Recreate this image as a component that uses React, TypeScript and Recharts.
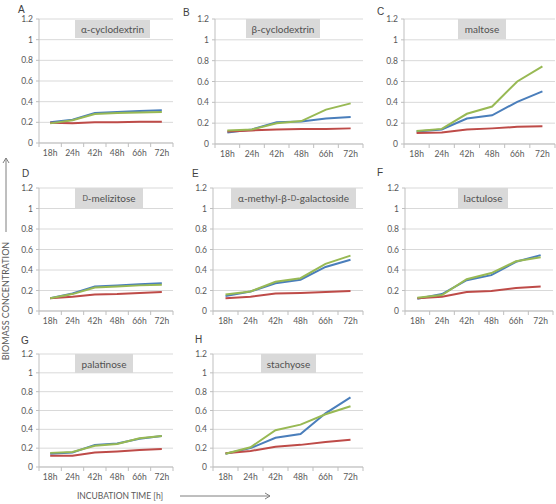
import React from 'react';
import { LineChart, Line, XAxis, YAxis, CartesianGrid } from 'recharts';

// ---- data ----
const hours = ['18h', '24h', '42h', '48h', '66h', '72h'];
const yTicks = [0, 0.2, 0.4, 0.6, 0.8, 1, 1.2];
const letters = ['A', 'B', 'C', 'D', 'E', 'F', 'G', 'H'];
const sugars = [
  'α-cyclodextrin',
  'β-cyclodextrin',
  'maltose',
  'D-melizitose',
  'α-methyl-β-D-galactoside',
  'lactulose',
  'palatinose',
  'stachyose',
];

const blueA = [0.2, 0.225, 0.29, 0.3, 0.31, 0.318];
const redA = [0.195, 0.19, 0.2, 0.2, 0.205, 0.205];
const greenA = [0.19, 0.22, 0.28, 0.29, 0.295, 0.3];

const blueB = [0.11, 0.14, 0.21, 0.215, 0.245, 0.26];
const redB = [0.12, 0.13, 0.14, 0.145, 0.145, 0.15];
const greenB = [0.13, 0.14, 0.2, 0.22, 0.33, 0.39];

const blueC = [0.12, 0.14, 0.245, 0.275, 0.405, 0.505];
const redC = [0.105, 0.11, 0.14, 0.15, 0.165, 0.17];
const greenC = [0.125, 0.145, 0.29, 0.36, 0.6, 0.745];

const blueD = [0.125, 0.17, 0.24, 0.25, 0.26, 0.27];
const redD = [0.125, 0.14, 0.16, 0.165, 0.175, 0.185];
const greenD = [0.125, 0.165, 0.23, 0.24, 0.25, 0.255];

const blueE = [0.145, 0.19, 0.27, 0.305, 0.43, 0.5];
const redE = [0.125, 0.14, 0.17, 0.175, 0.185, 0.195];
const greenE = [0.16, 0.19, 0.285, 0.32, 0.46, 0.54];

const blueF = [0.12, 0.165, 0.3, 0.35, 0.48, 0.545];
const redF = [0.125, 0.14, 0.185, 0.195, 0.225, 0.24];
const greenF = [0.13, 0.155, 0.31, 0.37, 0.485, 0.525];

const blueG = [0.14, 0.155, 0.235, 0.25, 0.3, 0.33];
const redG = [0.12, 0.12, 0.155, 0.165, 0.18, 0.19];
const greenG = [0.15, 0.16, 0.225, 0.245, 0.305, 0.33];

const blueH = [0.14, 0.2, 0.31, 0.35, 0.57, 0.74];
const redH = [0.145, 0.17, 0.215, 0.235, 0.265, 0.29];
const greenH = [0.14, 0.21, 0.39, 0.45, 0.56, 0.645];

const blues = [blueA, blueB, blueC, blueD, blueE, blueF, blueG, blueH];
const reds = [redA, redB, redC, redD, redE, redF, redG, redH];
const greens = [greenA, greenB, greenC, greenD, greenE, greenF, greenG, greenH];

// ---- layout (positions/styles) ----
const plots = [
  { x0: 39, y0: 19, x1: 173, y1: 143 },
  { x0: 215, y0: 19, x1: 363, y1: 144 },
  { x0: 404, y0: 19, x1: 555, y1: 144 },
  { x0: 39, y0: 188, x1: 173, y1: 311 },
  { x0: 213, y0: 188, x1: 363, y1: 311 },
  { x0: 405, y0: 188, x1: 553, y1: 311 },
  { x0: 39, y0: 354, x1: 173, y1: 467 },
  { x0: 213, y0: 354, x1: 363, y1: 467 },
];
const boxes = [
  { x: 75, y: 20, w: 75, h: 18 },
  { x: 246, y: 19, w: 74, h: 19 },
  { x: 458, y: 19, w: 48, h: 20 },
  { x: 75, y: 188, w: 68, h: 20 },
  { x: 231, y: 188, w: 125, h: 20 },
  { x: 458, y: 188, w: 50, h: 20 },
  { x: 75, y: 354, w: 58, h: 19 },
  { x: 261, y: 354, w: 55, h: 19 },
];
const letterPos = [
  { x: 18, y: 13 },
  { x: 183, y: 16 },
  { x: 377, y: 15 },
  { x: 22, y: 177 },
  { x: 192, y: 177 },
  { x: 377, y: 176 },
  { x: 21, y: 344 },
  { x: 195, y: 343 },
];

const FONT = 'Lato, "Open Sans", "DejaVu Sans", sans-serif';
const TXT = '#595959';
const BLUE = '#4a7ebb';
const RED = '#be4b48';
const GREEN = '#98b954';
const GRID = '#d9d9d9';
const AXIS = '#bfbfbf';

const YW = 32;
const MT = 6;
const MR = 1;
const XH = 22;
const XM = 7;

function renderName(name: string) {
  const parts = name.split(/(D(?=-))/);
  return parts.map((p, i) =>
    p === 'D' ? (
      <span key={i} style={{ fontSize: '0.72em' }}>
        D
      </span>
    ) : (
      <span key={i}>{p}</span>
    )
  );
}

function makeXTick(bw: number, n: number) {
  return (props: any) => {
    const { x, y, payload, index } = props;
    const ay = y - XM;
    return (
      <g>
        <line x1={x - bw / 2} x2={x - bw / 2} y1={ay} y2={ay + 4} stroke={AXIS} strokeWidth={1} />
        {index === n - 1 && (
          <line x1={x + bw / 2} x2={x + bw / 2} y1={ay} y2={ay + 4} stroke={AXIS} strokeWidth={1} />
        )}
        <text x={x} y={y} dy="0.71em" textAnchor="middle" fill={TXT} fontSize={8.5} fontFamily={FONT}>
          {payload.value}
        </text>
      </g>
    );
  };
}

function Panel({ i }: { i: number }) {
  const p = plots[i];
  const pw = p.x1 - p.x0;
  const ph = p.y1 - p.y0;
  const data = hours.map((h, k) => ({ h, blue: blues[i][k], red: reds[i][k], green: greens[i][k] }));
  const bw = pw / hours.length;
  return (
    <div style={{ position: 'absolute', left: p.x0 - YW, top: p.y0 - MT }}>
      <LineChart
        width={pw + YW + MR}
        height={ph + MT + XH}
        data={data}
        margin={{ top: MT, right: MR, bottom: 0, left: 0 }}
      >
        <CartesianGrid vertical={false} stroke={GRID} strokeWidth={1} />
        <XAxis
          dataKey="h"
          scale="band"
          height={XH}
          tickLine={false}
          tickSize={0}
          tickMargin={XM}
          axisLine={{ stroke: AXIS }}
          interval={0}
          tick={makeXTick(bw, hours.length)}
        />
        <YAxis
          width={YW}
          domain={[0, 1.2]}
          ticks={yTicks}
          interval={0}
          tickSize={3}
          tickMargin={3}
          tickLine={{ stroke: AXIS }}
          axisLine={{ stroke: AXIS }}
          tick={{ fill: TXT, fontSize: 8.5, fontFamily: FONT }}
        />
        <Line dataKey="blue" stroke={BLUE} strokeWidth={2} dot={false} isAnimationActive={false} />
        <Line dataKey="red" stroke={RED} strokeWidth={2} dot={false} isAnimationActive={false} />
        <Line dataKey="green" stroke={GREEN} strokeWidth={2} dot={false} isAnimationActive={false} />
      </LineChart>
    </div>
  );
}

export default function App() {
  return (
    <div
      style={{
        position: 'absolute',
        left: 0,
        top: 0,
        width: 556,
        height: 504,
        overflow: 'hidden',
        background: '#fff',
        fontFamily: FONT,
      }}
    >
      {plots.map((_, i) => (
        <Panel key={i} i={i} />
      ))}
      {boxes.map((b, i) => (
        <div
          key={'b' + i}
          style={{
            position: 'absolute',
            left: b.x,
            top: b.y,
            width: b.w,
            height: b.h,
            background: '#d9d9d9',
            color: '#505050',
            fontSize: 10,
            fontWeight: 400,
            fontFamily: FONT,
            display: 'flex',
            alignItems: 'center',
            justifyContent: 'center',
            whiteSpace: 'nowrap',
          }}
        >
          {renderName(sugars[i])}
        </div>
      ))}
      <svg width={556} height={504} style={{ position: 'absolute', left: 0, top: 0, pointerEvents: 'none' }}>
        {letters.map((l, i) => (
          <text
            key={l}
            x={letterPos[i].x}
            y={letterPos[i].y}
            fontSize={10}
            fontFamily='"Liberation Sans", Arial, sans-serif'
            fill="#404040"
          >
            {l}
          </text>
        ))}
        <text
          transform="translate(9,301) rotate(-90)"
          textAnchor="middle"
          fontSize={9}
          fontFamily={FONT}
          fill={TXT}
        >
          BIOMASS CONCENTRATION
        </text>
        <line x1={6} y1={232} x2={6} y2={158} stroke="#7f7f7f" strokeWidth={1} />
        <polyline points="3,163 6,158 9,163" fill="none" stroke="#7f7f7f" strokeWidth={1} />
        <text x={120} y={499} textAnchor="middle" fontSize={8.5} fontFamily={FONT} fill={TXT}>
          INCUBATION TIME [h]
        </text>
        <line x1={180} y1={496} x2={270} y2={496} stroke="#7f7f7f" strokeWidth={1} />
        <polyline points="265,493 270,496 265,499" fill="none" stroke="#7f7f7f" strokeWidth={1} />
      </svg>
    </div>
  );
}
